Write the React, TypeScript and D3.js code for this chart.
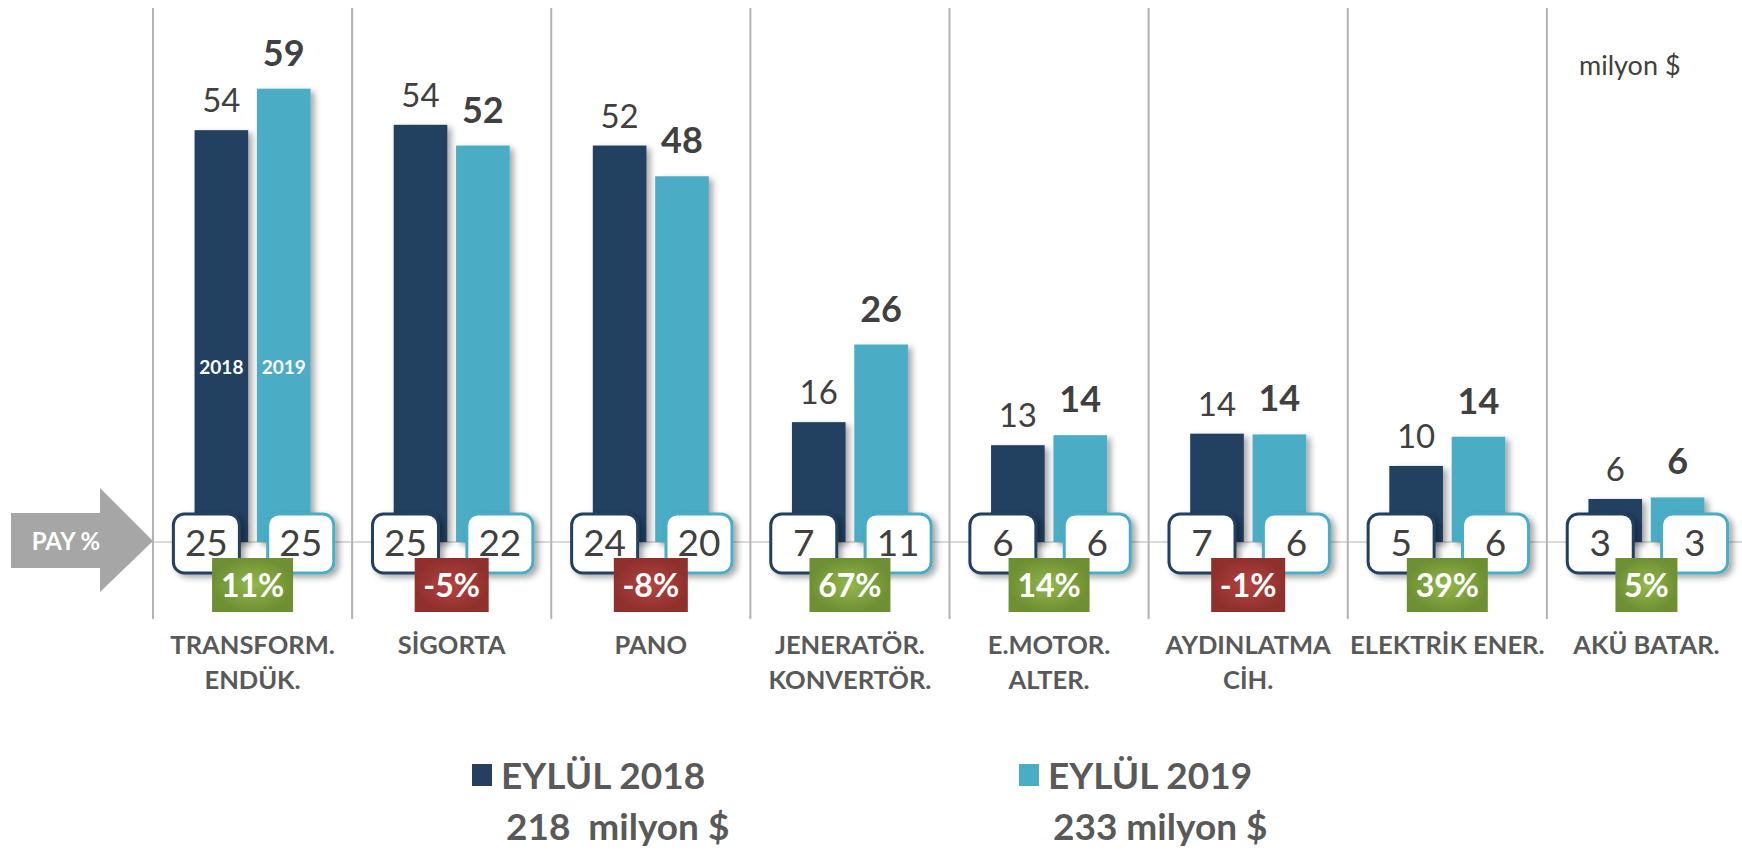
import React from "react";
import { scaleBand, scaleLinear } from "d3";

const categories = [
  ["TRANSFORM.", "ENDÜK."],
  ["SİGORTA"],
  ["PANO"],
  ["JENERATÖR.", "KONVERTÖR."],
  ["E.MOTOR.", "ALTER."],
  ["AYDINLATMA", "CİH."],
  ["ELEKTRİK ENER."],
  ["AKÜ BATAR."],
];
const years = ["2018", "2019"];
const values2018 = [53.6, 54.3, 51.6, 15.6, 12.6, 14.1, 9.9, 5.6];
const values2019 = [59.0, 51.6, 47.6, 25.7, 13.9, 14.0, 13.7, 5.8];
const share2018 = [25, 25, 24, 7, 6, 7, 5, 3];
const share2019 = [25, 22, 20, 11, 6, 6, 6, 3];
const growth = [11, -5, -8, 67, 14, -1, 39, 5];
const legendLabels = ["EYLÜL 2018", "EYLÜL 2019"];
const legendTotals = ["218  milyon $", "233 milyon $"];

const W = 1742;
const H = 851;
const DARK = "#243f60";
const LIGHT = "#4bacc6";
const FONT = "Lato, 'Open Sans', sans-serif";

// rough width of the badge text, so the coloured box hugs it
const badgeWidth = (s: string) =>
  24 + s.split("").reduce((w, ch) => w + (ch === "-" ? 12 : 19), 0);

export default function App() {
  const keys = categories.map((c) => c.join(" "));
  const x = scaleBand<string>().domain(keys).range([153, 1746]).padding(0);
  const baseY = 542;
  const y = scaleLinear().domain([0, 60]).range([baseY, 81]);
  const series = [values2018, values2019];
  const shares = [share2018, share2019];

  const inner = (c: number) =>
    scaleBand<string>().domain(years).range([c - 58, c + 58]).paddingInner(0.14);

  return (
    <svg
      width={W}
      height={H}
      style={{ position: "absolute", left: 0, top: 0, background: "#fff" }}
      fontFamily={FONT}
    >
      <defs>
        <filter id="shadow" x="-20%" y="-10%" width="150%" height="130%">
          <feDropShadow dx="4" dy="3" stdDeviation="3" floodColor="#000" floodOpacity="0.35" />
        </filter>
        <radialGradient id="green">
          <stop offset="0%" stopColor="#93b84c" />
          <stop offset="100%" stopColor="#6e8f33" />
        </radialGradient>
        <radialGradient id="red">
          <stop offset="0%" stopColor="#b4433f" />
          <stop offset="100%" stopColor="#8f302d" />
        </radialGradient>
      </defs>

      {/* baseline */}
      <line x1={140} x2={W} y1={baseY} y2={baseY} stroke="#d9d9d9" strokeWidth={2} />

      {/* column dividers */}
      {keys.map((k) => (
        <line key={k} x1={x(k)!} x2={x(k)!} y1={8} y2={619} stroke="#b3b3b3" strokeWidth={2} />
      ))}

      {/* PAY % arrow */}
      <path d="M11,513 L100,513 L100,488 L153,541 L100,592 L100,568 L11,568 Z" fill="#a6a6a6" />
      <text x={66} y={542} dy="0.35em" textAnchor="middle" fill="#fff" fontWeight={700} fontSize={24}>
        PAY %
      </text>

      {/* bars */}
      {keys.map((k, i) => {
        const c = x(k)! + x.bandwidth() / 2;
        const xi = inner(c);
        return (
          <g key={k}>
            {years.map((yr, j) => (
              <rect
                key={yr}
                x={xi(yr)!}
                y={y(series[j][i])}
                width={xi.bandwidth()}
                height={baseY - y(series[j][i])}
                fill={j === 0 ? DARK : LIGHT}
                filter="url(#shadow)"
              />
            ))}
            {years.map((yr, j) => (
              <text
                key={"v" + yr}
                x={xi(yr)! + xi.bandwidth() / 2}
                y={y(series[j][i]) - (j === 0 ? 18 : 23)}
                textAnchor="middle"
                fill="#404040"
                fontSize={j === 0 ? 33 : 36}
                fontWeight={j === 0 ? 400 : 700}
              >
                {Math.round(series[j][i])}
              </text>
            ))}
            {i === 0 &&
              years.map((yr) => (
                <text
                  key={"y" + yr}
                  x={xi(yr)! + xi.bandwidth() / 2}
                  y={374}
                  textAnchor="middle"
                  fill="#fff"
                  fontSize={19}
                  fontWeight={700}
                >
                  {yr}
                </text>
              ))}
          </g>
        );
      })}

      {/* share boxes and growth badges */}
      {keys.map((k, i) => {
        const c = x(k)! + x.bandwidth() / 2;
        const xi = inner(c);
        const g = growth[i];
        const label = `${g}%`;
        const bw = badgeWidth(label);
        return (
          <g key={"b" + k}>
            {years.map((yr, j) => {
              const bc = xi(yr)! + xi.bandwidth() / 2 + (j === 0 ? -15 : 17);
              return (
                <g key={yr}>
                  <rect
                    x={bc - 33}
                    y={baseY - 28}
                    width={66}
                    height={59}
                    rx={11}
                    fill="#fff"
                    stroke={j === 0 ? DARK : LIGHT}
                    strokeWidth={3}
                    filter="url(#shadow)"
                  />
                  <text x={bc} y={baseY + 1} dy="0.36em" textAnchor="middle" fill="#404040" fontSize={37}>
                    {shares[j][i]}
                  </text>
                </g>
              );
            })}
            <rect
              x={c - bw / 2}
              y={558}
              width={bw}
              height={54}
              fill={g >= 0 ? "url(#green)" : "url(#red)"}
            />
            <text x={c} y={585} dy="0.36em" textAnchor="middle" fill="#fff" fontSize={32} fontWeight={700}>
              {label}
            </text>
            {categories[i].map((line, li) => (
              <text
                key={line}
                x={c}
                y={654 + li * 35}
                textAnchor="middle"
                fill="#595959"
                fontSize={25.5}
                fontWeight={700}
              >
                {line}
              </text>
            ))}
          </g>
        );
      })}

      <text x={1579} y={75} fill="#404040" fontSize={27}>
        milyon $
      </text>

      {/* legend */}
      {legendLabels.map((lab, j) => {
        const lx = j === 0 ? 472 : 1019;
        return (
          <g key={lab}>
            <rect x={lx} y={764} width={20} height={22} fill={j === 0 ? DARK : LIGHT} />
            <text x={lx + 29} y={789} fill="#595959" fontSize={37} fontWeight={700}>
              {lab}
            </text>
            <text
              x={lx + 34}
              y={840}
              fill="#595959"
              fontSize={37}
              fontWeight={700}
              style={{ whiteSpace: "pre" }}
            >
              {legendTotals[j]}
            </text>
          </g>
        );
      })}
    </svg>
  );
}
